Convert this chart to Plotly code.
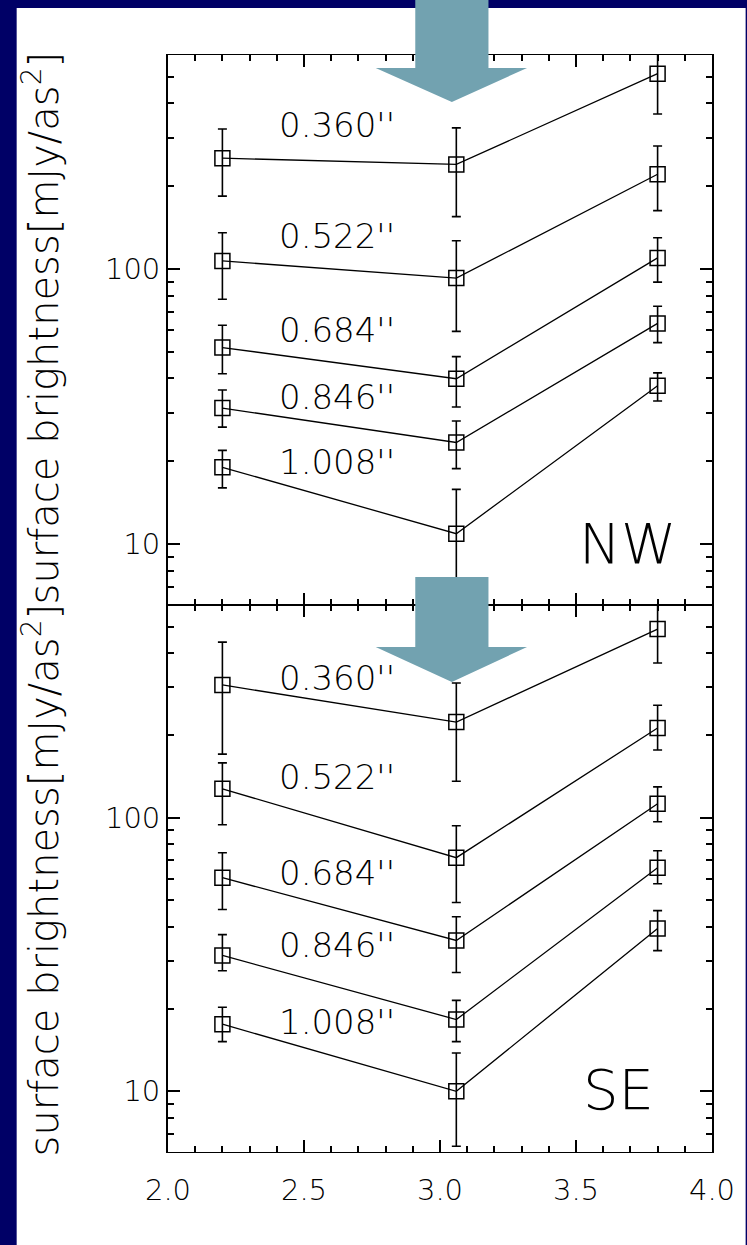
import math
import plotly.graph_objects as go
from plotly.subplots import make_subplots

# ---------------- data ----------------
wavelength = [2.2, 3.06, 3.8]
radii = ["0.360''", "0.522''", "0.684''", "0.846''", "1.008''"]

nw_flux = [[253, 240, 513], [107, 92.7, 221], [51.8, 39.9, 109.7], [31.2, 23.4, 63.4], [19.0, 10.9, 37.6]]
nw_upper = [[323, 326, 725], [135.5, 126.6, 280], [62.4, 48.0, 129.9], [36.3, 28.0, 73.2], [21.9, 15.8, 41.9]]
nw_lower = [[184, 155, 366], [77.6, 59.3, 163], [41.6, 31.5, 89.6], [26.6, 18.8, 54.0], [16.0, 5.0, 33.1]]

se_flux = [[306, 224, 490], [127.6, 71.5, 213], [60.4, 35.6, 112.5], [31.4, 18.3, 65.7], [17.6, 10.0, 39.4]]
se_upper = [[439, 311, 660], [158.8, 93.5, 258], [74.5, 43.5, 129.8], [37.4, 21.5, 75.8], [20.3, 13.8, 45.8]]
se_lower = [[171, 136, 368], [94.3, 49.0, 177], [46.2, 27.2, 96.7], [27.6, 15.2, 57.4], [15.2, 6.3, 32.7]]

nw_label_y = [334, 132, 59.8, 34.3, 19.8]
se_label_y = [324, 141, 63, 34.4, 17.9]

y_major = [10, 100]
y_minor = [6, 7, 8, 9, 20, 30, 40, 50, 60, 70, 80, 90, 200, 300, 400, 500]
x_major = [2.0, 2.5, 3.0, 3.5, 4.0]

# ---------------- layout geometry ----------------
W, H = 747, 1245
L, R, T, B = 168, 29, 55, 93
PW, PH = W - L - R, H - T - B
split_px = 605


def px(x):
    return (x - L) / PW


def py(y):
    return (H - B - y) / PH


FONT = "DejaVu Sans"
NAVY = "#000066"
ARROW = "#72a2b0"

split = py(split_px)
fig = make_subplots(rows=2, cols=1, shared_xaxes=False, vertical_spacing=0)
fig.update_layout(yaxis=dict(domain=[split, 1]), yaxis2=dict(domain=[0, split]))

panels = [(nw_flux, nw_upper, nw_lower, 1), (se_flux, se_upper, se_lower, 2)]
for flux, up, lo, row in panels:
    for i, name in enumerate(radii):
        f = flux[i]
        fig.add_trace(
            go.Scatter(
                x=wavelength,
                y=f,
                mode="lines+markers",
                name=name,
                showlegend=False,
                line=dict(color="black", width=1.3),
                marker=dict(symbol="square-open", size=15, color="black", line=dict(width=1.5, color="black")),
                error_y=dict(
                    type="data",
                    symmetric=False,
                    array=[u - v for u, v in zip(up[i], f)],
                    arrayminus=[v - l for v, l in zip(f, lo[i])],
                    color="black",
                    thickness=1.6,
                    width=4.5,
                ),
            ),
            row=row,
            col=1,
        )

axis_common = dict(
    showline=True,
    linecolor="black",
    mirror="allticks",
    ticks="inside",
    tickcolor="black",
    tickwidth=1.5,
    showgrid=False,
    zeroline=False,
)

for r in (1, 2):
    fig.update_xaxes(
        range=[2.0, 4.0],
        tickmode="array",
        tickvals=x_major,
        ticklen=12,
        linewidth=1.4,
        minor=dict(dtick=0.1, tick0=2.0, ticks="inside", ticklen=6, tickcolor="black", tickwidth=1.5),
        showticklabels=(r == 2),
        tickformat=".1f",
        tickfont=dict(family=FONT, size=29, color="black", weight=200),
        ticklabelstandoff=12,
        row=r,
        col=1,
        **axis_common,
    )
    fig.update_yaxes(
        type="log",
        range=[math.log10(6), math.log10(600)],
        tickmode="array",
        tickvals=y_major,
        ticktext=[str(v) for v in y_major],
        ticklen=12,
        linewidth=1.8,
        minor=dict(tickmode="array", tickvals=y_minor, ticks="inside", ticklen=6, tickcolor="black", tickwidth=1.5),
        tickfont=dict(family=FONT, size=29, color="black", weight=200),
        ticklabelstandoff=0,
        row=r,
        col=1,
        **axis_common,
    )

annotations = []
for labels_y, yref, xref in [(nw_label_y, "y", "x"), (se_label_y, "y2", "x2")]:
    for name, yv in zip(radii, labels_y):
        annotations.append(dict(
            x=2.4, y=math.log10(yv), xref=xref, yref=yref, text=name, showarrow=False,
            xanchor="left", yanchor="middle",
            font=dict(family=FONT, size=34, color="black", weight=200),
        ))

annotations.append(dict(x=3.69, y=1.0, xref="x", yref="y", text="NW", showarrow=False,
                        xanchor="center", yanchor="middle",
                        font=dict(family=FONT, size=56, color="black", weight=200)))
annotations.append(dict(x=3.655, y=1.005, xref="x2", yref="y2", text="SE", showarrow=False,
                        xanchor="center", yanchor="middle",
                        font=dict(family=FONT, size=56, color="black", weight=200)))

ytitle = "surface brightness[mJy/as<sup>2</sup>]"
for cy in (328, 880):
    annotations.append(dict(x=px(40), y=py(cy), xref="paper", yref="paper", text=ytitle,
                            showarrow=False, textangle=-90, xanchor="center", yanchor="middle",
                            font=dict(family=FONT, size=40, color="black", weight=200)))

shapes = [
    dict(type="rect", xref="paper", yref="paper", layer="below",
         x0=px(15), x1=px(W + 5), y0=py(H + 5), y1=py(8),
         fillcolor="white", line=dict(width=0)),
]


def arrow_path(y_top, y_head, y_tip):
    pts = [(418, y_top), (492, y_top), (492, y_head), (531, y_head), (455, y_tip),
           (378, y_head), (418, y_head)]
    return "M " + " L ".join(f"{px(a):.5f},{py(b):.5f}" for a, b in pts) + " Z"


for yt, yh, ytip in [(-5, 68, 102), (577, 647, 682)]:
    shapes.append(dict(type="path", xref="paper", yref="paper", layer="above",
                       path=arrow_path(yt, yh, ytip), fillcolor=ARROW, line=dict(width=0)))

fig.update_layout(
    width=W,
    height=H,
    autosize=False,
    margin=dict(l=L, r=R, t=T, b=B, pad=0),
    paper_bgcolor=NAVY,
    plot_bgcolor="white",
    annotations=annotations,
    shapes=shapes,
    showlegend=False,
    font=dict(family=FONT, color="black"),
)

fig.write_html("out.html")
